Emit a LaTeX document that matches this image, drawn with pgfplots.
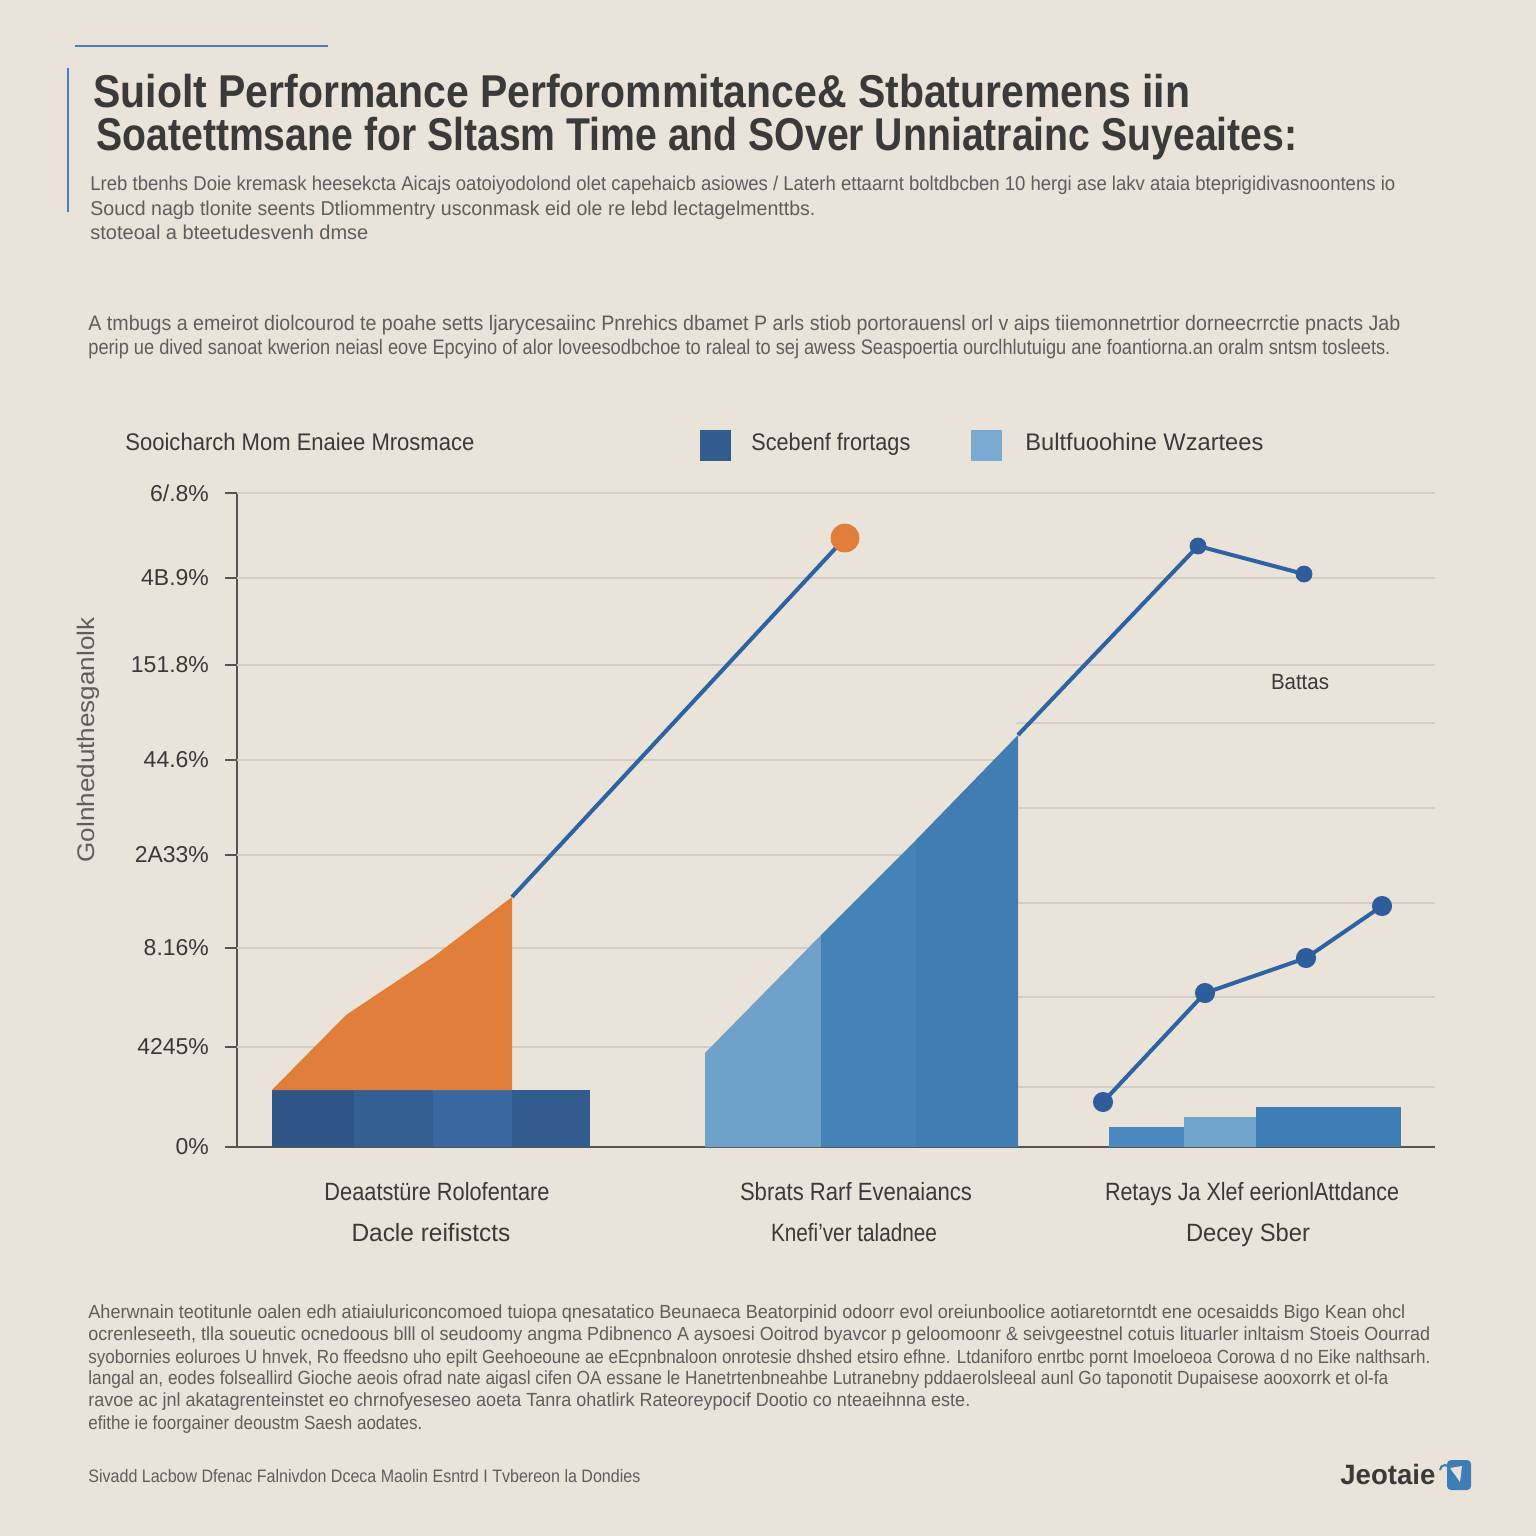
\documentclass[border=0pt]{standalone}
\usepackage{fontspec}
\setmainfont{Liberation Sans}
\usepackage{graphicx}
\usepackage{pgfplots}
\pgfplotsset{compat=1.18}

\definecolor{bg}{HTML}{E9E3D9}
\definecolor{gridc}{HTML}{D3CDC3}
\definecolor{axisc}{HTML}{555555}
\definecolor{titlec}{HTML}{3A3A3A}
\definecolor{textc}{HTML}{5E5E5E}
\definecolor{darkbar}{HTML}{335C8E}
\definecolor{darkbarA}{HTML}{2E5586}
\definecolor{darkbarB}{HTML}{345F92}
\definecolor{darkbarC}{HTML}{3B68A0}
\definecolor{orangec}{HTML}{E07E3A}
\definecolor{lineblue}{HTML}{2E63A3}
\definecolor{markblue}{HTML}{2F5C9A}
\definecolor{lightblue}{HTML}{6FA2CA}
\definecolor{midblue}{HTML}{3F7DB3}
\definecolor{midblueA}{HTML}{4583B9}
\definecolor{legendlight}{HTML}{7AA9D2}
\definecolor{barA}{HTML}{4A88C0}
\definecolor{barB}{HTML}{72A5CD}
\definecolor{barC}{HTML}{3F7DB5}
\definecolor{accent}{HTML}{4A7FB8}

% 1 pixel of the reference = 0.5pt
\newdimen\px \px=0.5pt
\newcommand\fw[2]{\resizebox{#1\px}{\height}{#2}}
\newcommand\fs[1]{\fontsize{#1}{#1}\selectfont}

\begin{document}
\begin{tikzpicture}
\begin{scope}[x=0.5pt,y=-0.5pt]
\fill[bg] (0,0) rectangle (1536,1536);

% header rules
\draw[accent, line width=1.2pt] (75,46) -- (328,46);
\draw[accent, line width=1.2pt] (68,68) -- (68,212);

% title
\node[anchor=base west, inner sep=0, text=titlec] at (93,108)
  {\fs{23}\bfseries\fw{1097}{Suiolt Performance Perforommitance\& Stbaturemens iin}};
\node[anchor=base west, inner sep=0, text=titlec] at (96,150)
  {\fs{23}\bfseries\fw{1201}{Soatettmsane for Sltasm Time and SOver Unniatrainc Suyeaites:}};

% subtitle
\node[anchor=base west, inner sep=0, text=textc] at (90,190)
  {\fs{10}\fw{1305}{Lreb tbenhs Doie kremask heesekcta Aicajs oatoiyodolond olet capehaicb asiowes / Laterh ettaarnt boltdbcben 10 hergi ase lakv ataia bteprigidivasnoontens io}};
\node[anchor=base west, inner sep=0, text=textc] at (90,215)
  {\fs{10}\fw{725}{Soucd nagb tlonite seents Dtliommentry usconmask eid ole re lebd lectagelmenttbs.}};
\node[anchor=base west, inner sep=0, text=textc] at (90,239)
  {\fs{10}\fw{278}{stoteoal a bteetudesvenh dmse}};

% intro paragraph
\node[anchor=base west, inner sep=0, text=textc] at (88,330)
  {\fs{10.5}\fw{1312}{A tmbugs a emeirot diolcourod te poahe setts ljarycesaiinc Pnrehics dbamet P arls stiob portorauensl orl v aips tiiemonnetrtior dorneecrrctie pnacts Jab}};
\node[anchor=base west, inner sep=0, text=textc] at (88,354)
  {\fs{10.5}\fw{1302}{perip ue dived sanoat kwerion neiasl eove Epcyino of alor loveesodbchoe to raleal to sej awess Seaspoertia ourclhlutuigu ane foantiorna.an oralm sntsm tosleets.}};

% legend row
\node[anchor=base west, inner sep=0, text=titlec] at (125,450)
  {\fs{12}\fw{349}{Sooicharch Mom Enaiee Mrosmace}};
\fill[darkbar] (700,430) rectangle (731,461);
\node[anchor=base west, inner sep=0, text=titlec] at (751,450)
  {\fs{12}\fw{159}{Scebenf frortags}};
\fill[legendlight] (971,430) rectangle (1002,461);
\node[anchor=base west, inner sep=0, text=titlec] at (1025,450)
  {\fs{12}\fw{238}{Bultfuoohine Wzartees}};

% y axis title
\node[rotate=90, inner sep=0, text=textc] at (88,740)
  {\fs{12}\fw{245}{Golnheduthesganlolk}};

% in-plot label
\node[anchor=base, inner sep=0, text=titlec] at (1300,689)
  {\fs{11}\fw{58}{Battas}};

% category labels
\node[anchor=base, inner sep=0, text=titlec] at (437,1200) {\fs{12.5}\fw{225}{Deaatstüre Rolofentare}};
\node[anchor=base, inner sep=0, text=titlec] at (431,1241) {\fs{12.5}\fw{159}{Dacle reifistcts}};
\node[anchor=base, inner sep=0, text=titlec] at (856,1200) {\fs{12.5}\fw{232}{Sbrats Rarf Evenaiancs}};
\node[anchor=base, inner sep=0, text=titlec] at (854,1241) {\fs{12.5}\fw{166}{Knefi'ver taladnee}};
\node[anchor=base, inner sep=0, text=titlec] at (1252,1200) {\fs{12.5}\fw{294}{Retays Ja Xlef eerionlAttdance}};
\node[anchor=base, inner sep=0, text=titlec] at (1248,1241) {\fs{12.5}\fw{124}{Decey Sber}};

% footer paragraph
\node[anchor=base west, inner sep=0, text=textc] at (88,1318)
  {\fs{9.5}\fw{1317}{Aherwnain teotitunle oalen edh atiaiuluriconcomoed tuiopa qnesatatico Beunaeca Beatorpinid odoorr evol oreiunboolice aotiaretorntdt ene ocesaidds Bigo Kean ohcl}};
\node[anchor=base west, inner sep=0, text=textc] at (88,1340)
  {\fs{9.5}\fw{1342}{ocrenleseeth, tlla soueutic ocnedoous blll ol seudoomy angma Pdibnenco A aysoesi Ooitrod byavcor p geloomoonr \& seivgeestnel cotuis lituarler inltaism Stoeis Oourrad}};
\node[anchor=base west, inner sep=0, text=textc] at (88,1363)
  {\fs{9.5}\fw{1342}{syobornies eoluroes U hnvek, Ro ffeedsno uho epilt Geehoeoune ae eEcpnbnaloon onrotesie dhshed etsiro efhne. Ltdaniforo enrtbc pornt Imoeloeoa Corowa d no Eike nalthsarh.}};
\node[anchor=base west, inner sep=0, text=textc] at (88,1384)
  {\fs{9.5}\fw{1300}{langal an, eodes folseallird Gioche aeois ofrad nate aigasl cifen OA essane le Hanetrtenbneahbe Lutranebny pddaerolsleeal aunl Go taponotit Dupaisese aooxorrk et ol-fa}};
\node[anchor=base west, inner sep=0, text=textc] at (88,1406)
  {\fs{9.5}\fw{882}{ravoe ac jnl akatagrenteinstet eo chrnofyeseseo aoeta Tanra ohatlirk Rateoreypocif Dootio co nteaeihnna este.}};
\node[anchor=base west, inner sep=0, text=textc] at (88,1429)
  {\fs{9.5}\fw{334}{efithe ie foorgainer deoustm Saesh aodates.}};

% source line
\node[anchor=base west, inner sep=0, text=textc] at (88,1482)
  {\fs{9}\fw{552}{Sivadd Lacbow Dfenac Falnivdon Dceca Maolin Esntrd I Tvbereon la Dondies}};

% logo
\node[anchor=base west, inner sep=0, text=titlec] at (1340,1484)
  {\fs{14}\bfseries\fw{95}{Jeotaie}};
\fill[barC, rounded corners=2pt] (1447,1460) rectangle (1471,1490);
\fill[bg] (1450,1468) -- (1462,1466) -- (1460,1482) -- cycle;
\draw[barC, line width=1pt] (1440,1470) arc (180:360:5);
\end{scope}

\begin{axis}[
  at={(118.5pt,-573.5pt)}, anchor=south west,
  scale only axis, width=599pt, height=327pt,
  xmin=237, xmax=1435, ymin=0, ymax=654,
  axis x line=bottom, axis y line=left,
  axis line style={-, draw=axisc, line width=1.1pt},
  clip=false,
  xtick=\empty,
  ytick={0,100,199,292,387,482,569,654},
  yticklabels={0\%, 4245\%, 8.16\%, 2A33\%, 44.6\%, 151.8\%, 4B.9\%, 6/.8\%},
  tick align=outside, major tick length=6pt,
  tick style={draw=axisc, line width=1pt},
  yticklabel style={font=\fs{11.5}, text=titlec, xshift=-4.5pt},
]
% gridlines
\foreach \yy in {654,569,482} {
  \edef\temp{\noexpand\draw[gridc, line width=0.9pt] (axis cs:237,\yy) -- (axis cs:1435,\yy);}\temp
}
\foreach \yy in {387,292,199,100} {
  \edef\temp{\noexpand\draw[gridc, line width=0.9pt] (axis cs:237,\yy) -- (axis cs:1017,\yy);}\temp
}
\foreach \yy in {424,339,244,150,60} {
  \edef\temp{\noexpand\draw[gridc, line width=0.9pt] (axis cs:1017,\yy) -- (axis cs:1435,\yy);}\temp
}

% group 1: dark base bar in four shades
\addplot[fill=darkbarA, draw=none] coordinates {(272,0) (272,57) (354,57) (354,0)} -- cycle;
\addplot[fill=darkbarB, draw=none] coordinates {(354,0) (354,57) (433,57) (433,0)} -- cycle;
\addplot[fill=darkbarC, draw=none] coordinates {(433,0) (433,57) (512,57) (512,0)} -- cycle;
\addplot[fill=darkbar, draw=none] coordinates {(512,0) (512,57) (590,57) (590,0)} -- cycle;
% orange area on top
\addplot[fill=orangec, draw=none] coordinates {(272,57) (346,132) (433,190) (512,250) (512,57)} -- cycle;
% rising line
\addplot[lineblue, line width=2pt] coordinates {(512,250) (845,609)};
\addplot[only marks, mark=*, mark size=7pt, color=orangec] coordinates {(845,609)};

% group 2: light and mid blue areas
\addplot[fill=lightblue, draw=none] coordinates {(705,0) (705,94) (821,212) (821,0)} -- cycle;
\addplot[fill=midblueA, draw=none] coordinates {(821,0) (821,212) (916,307) (916,0)} -- cycle;
\addplot[fill=midblue, draw=none] coordinates {(916,0) (916,307) (1018,412) (1018,0)} -- cycle;
\addplot[lineblue, line width=2pt] coordinates {(1018,412) (1198,601) (1304,573)};
\addplot[only marks, mark=*, mark size=4pt, color=markblue] coordinates {(1198,601) (1304,573)};

% group 3: small bars and line
\addplot[fill=barA, draw=none] coordinates {(1109,0) (1109,20) (1184,20) (1184,0)} -- cycle;
\addplot[fill=barB, draw=none] coordinates {(1184,0) (1184,30) (1256,30) (1256,0)} -- cycle;
\addplot[fill=barC, draw=none] coordinates {(1256,0) (1256,40) (1401,40) (1401,0)} -- cycle;
\addplot[lineblue, line width=2pt, mark=*, mark size=4pt, mark options={fill=markblue, draw=markblue}]
  coordinates {(1103,45) (1205,154) (1306,189) (1382,241)};
\end{axis}
\end{tikzpicture}
\end{document}
